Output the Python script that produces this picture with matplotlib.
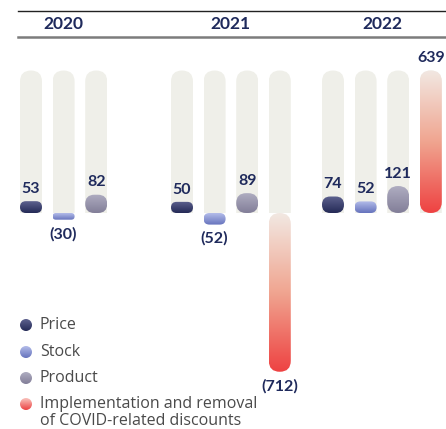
#!/usr/bin/env python3
import numpy as np
import matplotlib
matplotlib.use('Agg')
import matplotlib.pyplot as plt
from matplotlib.patches import FancyBboxPatch, Rectangle, Ellipse
from matplotlib.colors import LinearSegmentedColormap

years = ['2020', '2021', '2022']
series = ['Price', 'Stock', 'Product',
          'Implementation and removal\nof COVID-related discounts']
price = [53, 50, 74]
stock = [-30, -52, 52]
product = [82, 89, 121]
covid = [None, -712, 639]

bar_colors = [
    ('#5e628f', '#242a56'),
    ('#b4bdea', '#6572bc'),
    ('#afadc1', '#827e98'),
    ('#f2e8e2', '#f0a590', '#ee4242'),
]
dot_colors = [
    ('#5e628f', '#242a56'),
    ('#b4bdea', '#6572bc'),
    ('#afadc1', '#827e98'),
    ('#f9c4be', '#ec4242'),
]
navy = '#1f2a5c'
track = '#efefe9'
label_font = 'Lato'

# layout, in pixels of the 446x429 output
W, H = 446, 429
zero_px = 213
px_per_unit = 0.223
x0_px, slot_px, group_px, bar_px = 31, 32.6, 151, 22

fig = plt.figure(figsize=(W / 100, H / 100), dpi=100)
ax = fig.add_axes([0, 0, 1, 1])
ax.axis('off')
ax.set_autoscale_on(False)
ax.set_xlim(-x0_px / slot_px, (W - x0_px) / slot_px)
ax.set_ylim(-(H - zero_px) / px_per_unit, zero_px / px_per_unit)

asp = slot_px / px_per_unit   # value units per x unit at equal pixel length
bw = bar_px / slot_px
grad = np.linspace(0, 1, 256).reshape(-1, 1)


def gradient_fill(patch, extent, colors, z=3):
    cmap = LinearSegmentedColormap.from_list('g', colors)
    im = ax.imshow(grad, cmap=cmap, extent=extent, origin='upper',
                   aspect='auto', interpolation='bicubic', zorder=z)
    im.set_clip_path(patch)


def draw_bar(x, v, colors):
    y0, h = min(0, v), abs(v)
    r = min(bw / 2, h / asp / 2)
    patch = FancyBboxPatch((x - bw / 2, y0), bw, h,
                           boxstyle='round,pad=0,rounding_size=%f' % r,
                           mutation_aspect=asp, fc='none', ec='none')
    ax.add_patch(patch)
    gradient_fill(patch, (x - bw / 2, x + bw / 2, y0, y0 + h), colors)


def draw_track(x, top):
    r = bw / 2
    p = FancyBboxPatch((x - bw / 2, -r * asp), bw, top + r * asp,
                       boxstyle='round,pad=0,rounding_size=%f' % r,
                       mutation_aspect=asp, fc=track, ec='none', zorder=1)
    ax.add_patch(p)
    p.set_clip_path(Rectangle((x - bw / 2, 0), bw, top * 2,
                              transform=ax.transData))


all_series = [price, stock, product, covid]
top = max(v for s in all_series for v in s if v is not None and v > 0)

for g, year in enumerate(years):
    xs = []
    for s, (vals, cols) in enumerate(zip(all_series, bar_colors)):
        v = vals[g]
        if v is None:
            continue
        x = g * group_px / slot_px + s
        xs.append(x)
        draw_track(x, top)
        draw_bar(x, v, cols)
        if v >= 0:
            ax.annotate(str(v), (x, v), xytext=(0, 6), textcoords='offset points',
                        ha='center', va='baseline', fontsize=11.5, fontweight='bold',
                        color=navy, family=label_font)
        else:
            ax.annotate('(%d)' % -v, (x, v), xytext=(0, -5), textcoords='offset points',
                        ha='center', va='top', fontsize=11.5, fontweight='bold',
                        color=navy, family=label_font)
    ax.text(np.mean(xs), 1 - 24 / H, year, transform=ax.get_xaxis_transform(),
            ha='center', va='center', fontsize=12.5, fontweight='bold', color=navy,
            family=label_font)

# header rules
ax.plot([18 / W, 1], [1 - 10.5 / H] * 2, transform=ax.transAxes, color='#222222', lw=1)
ax.plot([18 / W, 1], [1 - 36.5 / H] * 2, transform=ax.transAxes, color='#7c7c7c', lw=1.8)

# legend
row_px = [325, 352, 378, 404]
for name, cols, ypx in zip(series, dot_colors, row_px):
    cx = (26 - x0_px) / slot_px
    cy = (zero_px - ypx) / px_per_unit
    dw, dh = 12 / slot_px, 12 / px_per_unit
    dot = Ellipse((cx, cy), dw, dh, fc='none', ec='none')
    ax.add_patch(dot)
    gradient_fill(dot, (cx - dw / 2, cx + dw / 2, cy - dh / 2, cy + dh / 2), cols)
    tx = (40 - x0_px) / slot_px
    if '\n' in name:
        # baseline alignment of a multi-line text pins its last line
        ax.text(tx, (zero_px - 425) / px_per_unit, name, ha='left', va='baseline',
                fontsize=11.5, color='#4a4a4a', family='Open Sans', linespacing=1.12)
    else:
        ax.text(tx, cy, name, ha='left', va='center', fontsize=11.5,
                color='#4a4a4a', family='Open Sans')

fig.savefig('out.png', dpi=100)
